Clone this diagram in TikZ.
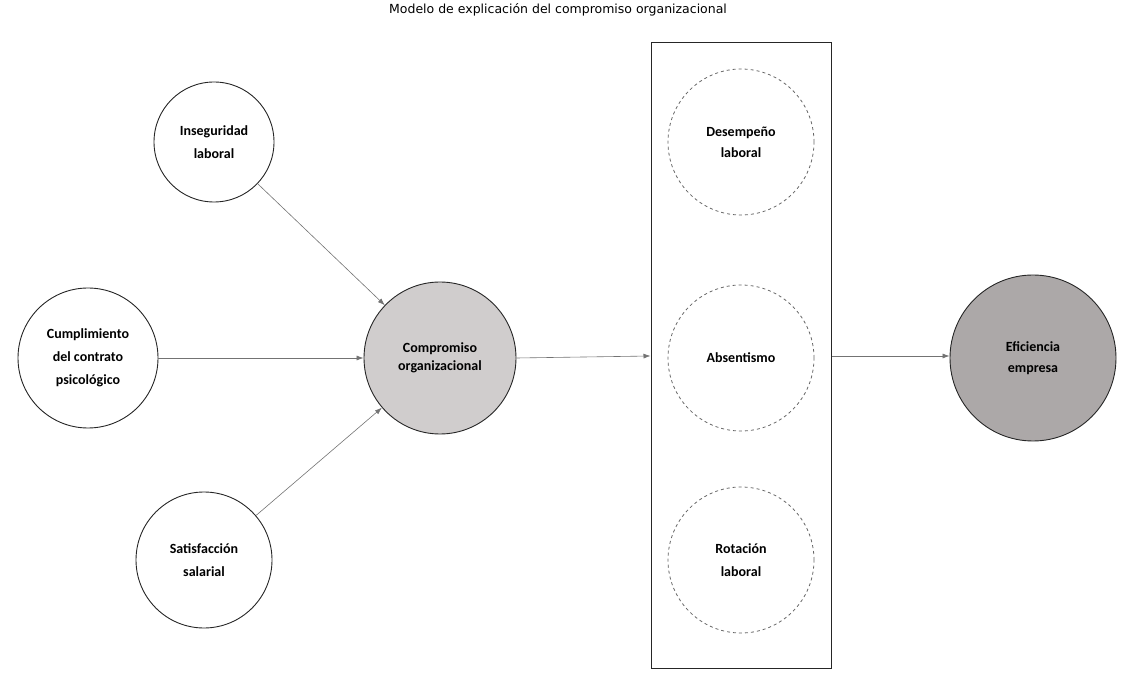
\documentclass[tikz,border=0pt]{standalone}
\usepackage{fontspec}
\setmainfont{Carlito}
\newfontfamily\titlefont{DejaVu Sans}
\usetikzlibrary{arrows.meta}
\definecolor{cgray}{HTML}{D0CDCD}
\definecolor{egray}{HTML}{ACA8A8}
\begin{document}
\begin{tikzpicture}[x=1pt,y=-1pt,
  circ/.style={circle,draw=black!85,line width=0.9pt,inner sep=0pt,align=center,font=\bfseries\fontsize{14}{23}\selectfont},
  dcirc/.style={circ,draw=black!60,dashed,line width=0.8pt},
  arr/.style={-{Latex[length=7pt,width=5pt]},draw=black!55,line width=0.6pt}]
\useasboundingbox (0,0) rectangle (1146,700);
\node[font=\titlefont\fontsize{12.5}{14}\selectfont] (title) at (558,10) {Modelo de explicación del compromiso organizacional};
\node[circ,minimum size=120pt] (ins) at (214,142) {Inseguridad\\laboral};
\node[circ,minimum size=140pt] (cum) at (88,358) {Cumplimiento\\del contrato\\psicológico};
\node[circ,minimum size=136pt] (sat) at (204,560) {Satisfacción\\salarial};
\node[circ,minimum size=152pt,fill=cgray,font=\bfseries\fontsize{14}{18}\selectfont] (com) at (440,358) {Compromiso\\organizacional};
\node[draw=black!85,line width=1pt,minimum width=180pt,minimum height=625pt,inner sep=0pt] (box) at (741,355.5) {};
\node[dcirc,minimum size=146pt,font=\bfseries\fontsize{14}{21}\selectfont] (des) at (741,142) {Desempeño\\laboral};
\node[dcirc,minimum size=146pt] (abs) at (741,358) {Absentismo};
\node[dcirc,minimum size=146pt] (rot) at (741,560) {Rotación\\laboral};
\node[circ,minimum size=166pt,fill=egray,font=\bfseries\fontsize{14}{21}\selectfont] (efi) at (1033,358) {Eficiencia\\empresa};
\draw[arr] (ins) -- (com);
\draw[arr] (cum) -- (com);
\draw[arr] (sat) -- (com);
\draw[arr] (com.east) -- (box.west |- 0,356);
\draw[arr] (box.east |- 0,356) -- (efi.west |- 0,356);
\end{tikzpicture}
\end{document}
